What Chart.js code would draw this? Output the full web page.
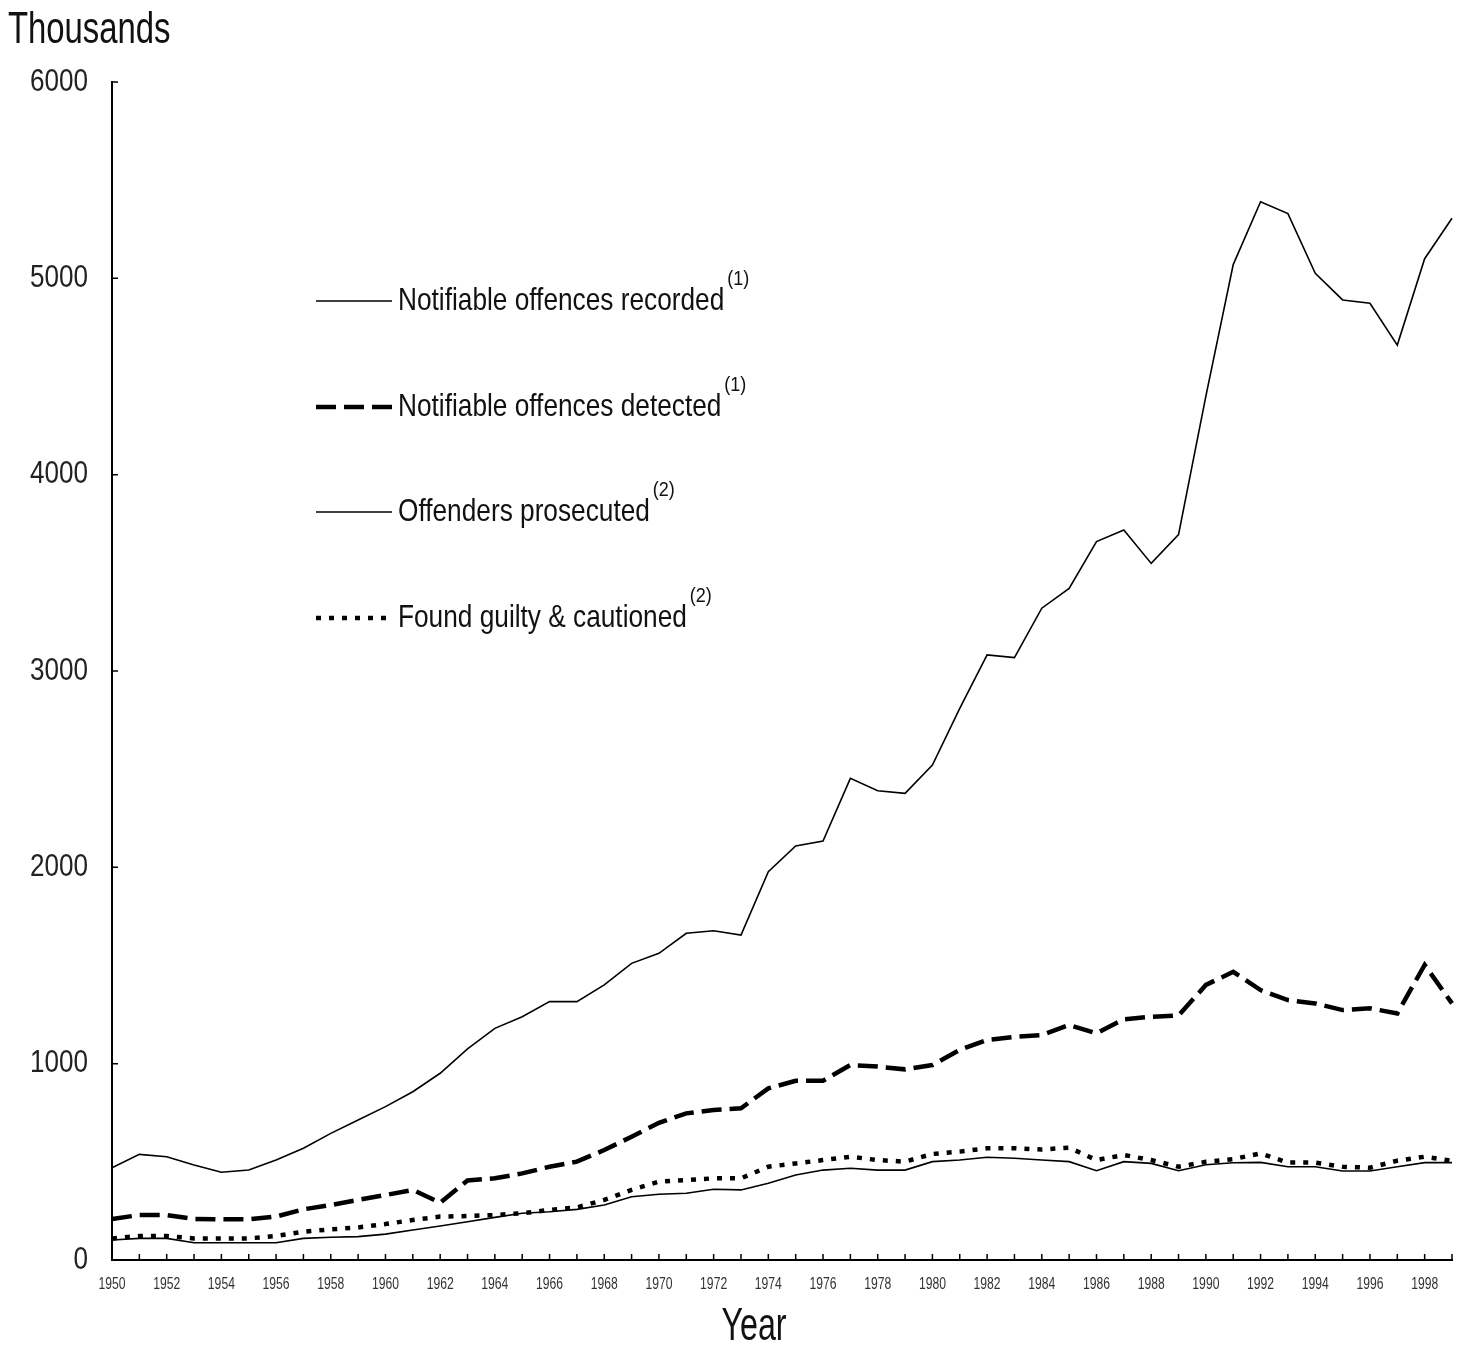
<!DOCTYPE html>
<html>
<head>
<meta charset="utf-8">
<script src="https://cdn.jsdelivr.net/npm/chart.js@4.4.1/dist/chart.umd.min.js"></script>
<style>
  body { margin: 0; background: #fff; }
  #wrap { width: 1461px; height: 1347px; position: relative; }
</style>
</head>
<body>
<div id="wrap"><canvas id="crime-chart"></canvas></div>
<script>
// Data (thousands)
const years = [1950, 1951, 1952, 1953, 1954, 1955, 1956, 1957, 1958, 1959,
  1960, 1961, 1962, 1963, 1964, 1965, 1966, 1967, 1968, 1969,
  1970, 1971, 1972, 1973, 1974, 1975, 1976, 1977, 1978, 1979,
  1980, 1981, 1982, 1983, 1984, 1985, 1986, 1987, 1988, 1989,
  1990, 1991, 1992, 1993, 1994, 1995, 1996, 1997, 1998, 1999];

const recorded = [470, 538, 526, 484, 447, 458, 509, 569, 645, 713,
  781, 857, 951, 1075, 1180, 1239, 1316, 1316, 1401, 1511,
  1562, 1664, 1677, 1655, 1978, 2109, 2134, 2453, 2390, 2377,
  2521, 2810, 3082, 3068, 3320, 3421, 3659, 3718, 3548, 3695,
  4400, 5070, 5390, 5330, 5026, 4890, 4873, 4660, 5100, 5306];

const detected = [209, 229, 229, 209, 207, 207, 221, 258, 280, 306,
  331, 357, 292, 405, 416, 441, 475, 501, 560, 628,
  699, 747, 764, 773, 874, 913, 913, 993, 985, 971,
  993, 1070, 1121, 1136, 1146, 1197, 1155, 1226, 1239, 1245,
  1401, 1468, 1375, 1324, 1307, 1273, 1282, 1256, 1503, 1307];

const prosecuted = [102, 110, 110, 88, 88, 88, 88, 110, 116, 119,
  132, 153, 173, 195, 217, 238, 246, 258, 280, 322,
  335, 340, 360, 357, 391, 433, 458, 467, 458, 458,
  501, 509, 523, 518, 509, 501, 455, 501, 492, 455,
  485, 495, 497, 475, 475, 453, 453, 475, 496, 496];

const guilty = [110, 122, 122, 110, 110, 110, 122, 144, 156, 166,
  183, 204, 221, 224, 229, 238, 255, 268, 306, 357,
  399, 407, 416, 416, 475, 492, 509, 526, 509, 501,
  540, 552, 569, 569, 563, 572, 509, 535, 509, 475,
  500, 514, 543, 496, 496, 475, 470, 506, 526, 505];

const yTicks = [0, 1000, 2000, 3000, 4000, 5000, 6000];

const seriesNames = ['Notifiable offences recorded', 'Notifiable offences detected',
  'Offenders prosecuted', 'Found guilty & cautioned'];
const seriesNotes = ['(1)', '(1)', '(2)', '(2)'];

const FONT = "'Liberation Sans', Arial, sans-serif";

// condensed text: the original uses a narrow face, so squeeze horizontally
function drawText(ctx, text, x, y, size, sx, align, baseline) {
  ctx.save();
  ctx.font = size + 'px ' + FONT;
  ctx.textAlign = align || 'left';
  ctx.textBaseline = baseline || 'alphabetic';
  ctx.translate(x, y);
  ctx.scale(sx, 1);
  ctx.fillText(text, 0, 0);
  const w = ctx.measureText(text).width * sx;
  ctx.restore();
  return w;
}

// Titles, tick labels, inward tick marks and the legend block
const extras = {
  id: 'extras',
  afterDraw(chart) {
    const ctx = chart.ctx;
    const xs = chart.scales.x;
    const ys = chart.scales.y;
    ctx.save();
    ctx.strokeStyle = '#000';
    ctx.lineWidth = 1.5;
    ctx.setLineDash([]);
    ctx.beginPath();
    xs.ticks.forEach((t, i) => {
      const px = xs.getPixelForTick(i);
      ctx.moveTo(px, xs.top);
      ctx.lineTo(px, xs.top - 6);
    });
    yTicks.forEach(v => {
      const py = ys.getPixelForValue(v);
      ctx.moveTo(ys.right, py);
      ctx.lineTo(ys.right + 6, py);
    });
    ctx.stroke();

    // tick labels
    ctx.fillStyle = '#333';
    xs.ticks.forEach((t, i) => {
      if (years[i] % 2 !== 0) return;
      drawText(ctx, String(years[i]), xs.getPixelForTick(i), 1289, 16, 0.76, 'center');
    });
    ctx.fillStyle = '#222';
    yTicks.forEach(v => {
      drawText(ctx, String(v), 88, ys.getPixelForValue(v), 32, 0.815, 'right', 'middle');
    });

    // axis titles
    ctx.fillStyle = '#111';
    drawText(ctx, 'Thousands', 8, 43, 45, 0.73, 'left');
    drawText(ctx, 'Year', 754, 1340, 46, 0.70, 'center');

    // legend
    const rows = [310, 416, 521, 627];
    chart.data.datasets.forEach((ds, i) => {
      const base = rows[i];
      const ly = base - 9;
      ctx.strokeStyle = ds.borderColor;
      ctx.lineWidth = ds.borderWidth;
      ctx.setLineDash(ds.borderDash || []);
      ctx.beginPath();
      ctx.moveTo(316, ly);
      ctx.lineTo(392, ly);
      ctx.stroke();
      ctx.setLineDash([]);
      const w = drawText(ctx, ds.label, 398, base, 32, 0.82, 'left');
      drawText(ctx, seriesNotes[i], 398 + w + 3, base - 25, 20, 0.9, 'left');
    });
    ctx.restore();
  }
};

const ctx = document.getElementById('crime-chart').getContext('2d');
new Chart(ctx, {
  type: 'line',
  data: {
    labels: years,
    datasets: [
      { label: seriesNames[0], data: recorded, borderColor: '#000', borderWidth: 1.6 },
      { label: seriesNames[1], data: detected, borderColor: '#000', borderWidth: 4.5, borderDash: [20, 8] },
      { label: seriesNames[2], data: prosecuted, borderColor: '#000', borderWidth: 1.6 },
      { label: seriesNames[3], data: guilty, borderColor: '#000', borderWidth: 4.5, borderDash: [5, 8] },
    ],
  },
  options: {
    responsive: true,
    maintainAspectRatio: false,
    animation: false,
    elements: {
      point: { radius: 0 },
      line: { tension: 0, fill: false, borderCapStyle: 'butt' },
    },
    layout: { padding: { top: 82, right: 9, left: 0, bottom: 0 } },
    plugins: {
      legend: { display: false },
      tooltip: { enabled: false },
    },
    scales: {
      x: {
        offset: false,
        grid: { display: false },
        border: { display: true, color: '#000', width: 2 },
        ticks: { display: false, autoSkip: false },
        afterFit: s => { s.height = 87; },
      },
      y: {
        min: 0,
        max: 6000,
        grid: { display: false },
        border: { display: true, color: '#000', width: 2 },
        ticks: { display: false, stepSize: 1000 },
        afterFit: s => { s.width = 112; },
      },
    },
  },
  plugins: [extras],
});
</script>
</body>
</html>
